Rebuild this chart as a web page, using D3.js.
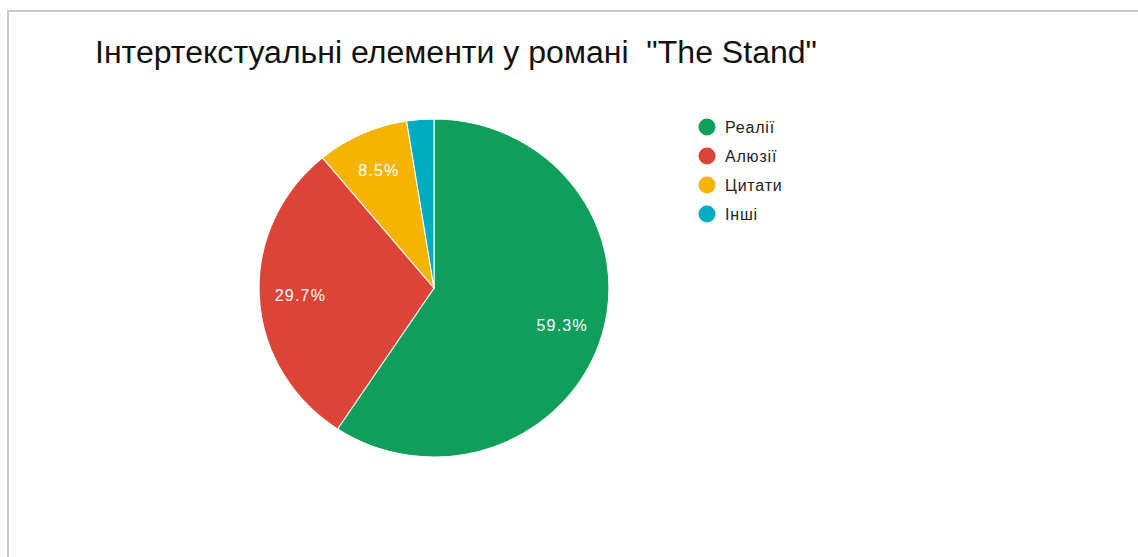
<!DOCTYPE html>
<html>
<head>
<meta charset="utf-8">
<script src="https://cdn.jsdelivr.net/npm/d3@7"></script>
<style>
  body { margin: 0; background: #fff; }
  text { font-family: Arial, "Liberation Sans", sans-serif; }
</style>
</head>
<body>
<svg id="chart" width="1138" height="557"></svg>
<script>
const categories = ["Реалії", "Алюзії", "Цитати", "Інші"];
const values = [59.3, 29.7, 8.5, 2.5];
const colors = ["#109f5a", "#db4437", "#f4b400", "#00acc1"];
const title = "Інтертекстуальні елементи у романі  \"The Stand\"";

const svg = d3.select("#chart");
const cx = 434, cy = 288, radius = 169, stretch = 1.035;

// frame (only top and left edges are visible in the shot)
svg.append("line").attr("x1", 7).attr("y1", 11).attr("x2", 1138).attr("y2", 11)
  .attr("stroke", "#c8c8c8").attr("stroke-width", 2);
svg.append("line").attr("x1", 8).attr("y1", 10).attr("x2", 8).attr("y2", 557)
  .attr("stroke", "#c8c8c8").attr("stroke-width", 2);

svg.append("text")
  .attr("x", 95).attr("y", 63)
  .attr("font-size", 31)
  .attr("textLength", 722)
  .attr("lengthAdjust", "spacingAndGlyphs")
  .attr("fill", "#111")
  .style("white-space", "pre")
  .text(title);

var data = categories.map(function(c, i) { return { name: c, value: values[i], color: colors[i] }; });

var pie = d3.pie().sort(null).value(d => d.value);
var arcs = pie(data);
var arc = d3.arc().innerRadius(0).outerRadius(radius);
var labelArc = d3.arc().innerRadius(radius * 0.765).outerRadius(radius * 0.765);

var g = svg.append("g").attr("transform", "translate(" + cx + "," + cy + ") scale(" + stretch + ",1)");
g.selectAll("path")
  .data(arcs)
  .enter()
  .append("path")
  .attr("d", arc)
  .attr("fill", d => d.data.color)
  .attr("stroke", "#fff")
  .attr("stroke-width", 1);

svg.append("g")
  .selectAll("text")
  .data(arcs.filter(d => d.data.value > 5))
  .enter()
  .append("text")
  .attr("x", d => cx + labelArc.centroid(d)[0] * stretch)
  .attr("y", d => cy + labelArc.centroid(d)[1])
  .attr("dy", "0.35em")
  .attr("text-anchor", "middle")
  .attr("font-size", 16)
  .attr("letter-spacing", 1.2)
  .attr("fill", "#fff")
  .text(d => d.data.value.toFixed(1) + "%");

var legend = svg.append("g")
  .selectAll("g")
  .data(data)
  .enter()
  .append("g")
  .attr("transform", (d, i) => "translate(707," + (127 + i * 29) + ")");

legend.append("circle")
  .attr("r", 8.5)
  .attr("fill", d => d.color);

legend.append("text")
  .attr("x", 18)
  .attr("dy", "0.36em")
  .attr("font-size", 16)
  .attr("letter-spacing", 0.8)
  .attr("fill", "#222")
  .text(d => d.name);
</script>
</body>
</html>
